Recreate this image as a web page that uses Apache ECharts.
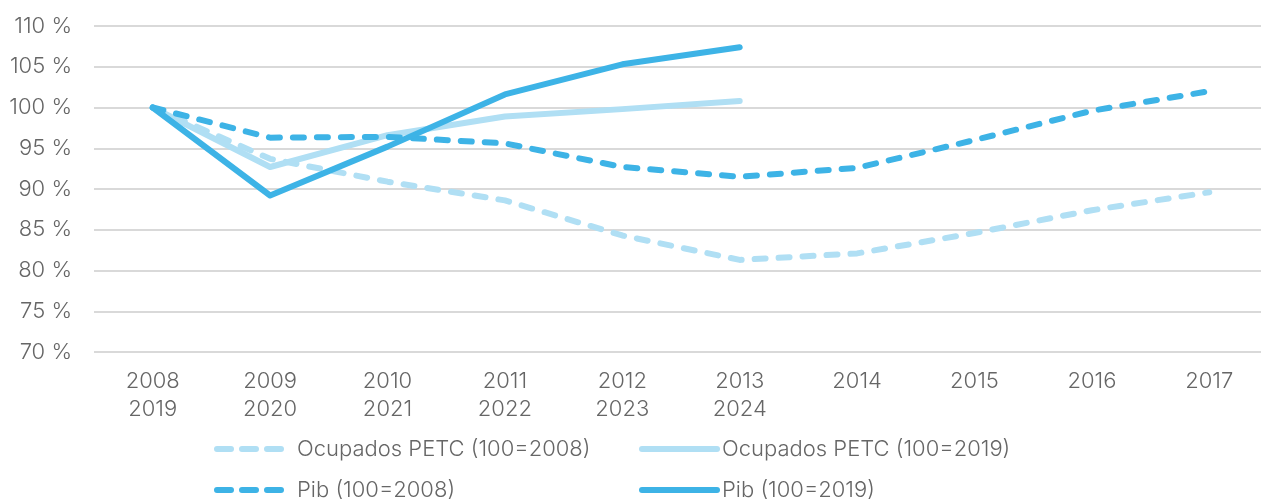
<!DOCTYPE html>
<html>
<head>
<meta charset="utf-8">
<title>Ocupados PETC y PIB</title>
<script src="https://cdn.jsdelivr.net/npm/echarts@6/dist/echarts.min.js"></script>
<style>
  html, body { margin: 0; padding: 0; background: #ffffff; overflow: hidden; }
  /* the plot runs a few pixels past the right edge of the page */
  #chart { width: 1268px; height: 499px; }
</style>
</head>
<body>
<div id="chart"></div>
<script>
// Category labels: first crisis period (2008-2017) paired with 2019-2024
const categories = [
  '2008\n2019', '2009\n2020', '2010\n2021', '2011\n2022', '2012\n2023',
  '2013\n2024', '2014', '2015', '2016', '2017'
];

// Index values (base 100)
const ocupados2008 = [100, 93.7, 90.9, 88.6, 84.3, 81.3, 82.1, 84.6, 87.4, 89.6];
const ocupados2019 = [100, 92.7, 96.6, 98.9, 99.8, 100.8];
const pib2008 = [100, 96.3, 96.4, 95.6, 92.7, 91.5, 92.6, 96.0, 99.6, 102.0];
const pib2019 = [100, 89.2, 95.2, 101.6, 105.3, 107.4];

const seriesNames = [
  'Ocupados PETC (100=2008)',
  'Ocupados PETC (100=2019)',
  'Pib (100=2008)',
  'Pib (100=2019)'
];

const LIGHT = '#b0dff4';
const DARK = '#3db3e6';
const DASH = [11, 13];
const FONT = 'Inter';
const WEIGHT = 300;
const FONT_SIZE = 22;
const TEXT = '#666666';
const LINE_W = 6;

function lineSeries(name, data, color, dashed) {
  return {
    name: name,
    type: 'line',
    data: data,
    symbol: 'none',
    smooth: false,
    lineStyle: {
      color: color,
      width: LINE_W,
      type: dashed ? DASH : 'solid',
      cap: 'round',
      join: 'round'
    },
    itemStyle: { color: color },
    emphasis: { disabled: true }
  };
}

// One legend block per entry so the two columns line up
function legendBlock(name, color, dashed, left, top) {
  return {
    left: left,
    top: top,
    itemWidth: 75,
    itemHeight: 14,
    textStyle: {
      fontFamily: FONT,
      fontWeight: WEIGHT,
      fontSize: FONT_SIZE,
      color: TEXT,
      lineHeight: 22,
      letterSpacing: 0.5
    },
    data: [{
      name: name,
      itemStyle: { opacity: 0 },
      lineStyle: {
        color: color,
        width: LINE_W,
        type: dashed ? [14, 11] : 'solid',
        cap: 'round'
      }
    }]
  };
}

const chart = echarts.init(document.getElementById('chart'), null, { renderer: 'canvas' });

chart.setOption({
  animation: false,
  backgroundColor: '#ffffff',
  grid: {
    left: 94,
    top: 26,
    width: 1174,
    height: 326,
    containLabel: false
  },
  legend: [
    legendBlock(seriesNames[0], LIGHT, true, 209, 433),
    legendBlock(seriesNames[1], LIGHT, false, 634, 433),
    legendBlock(seriesNames[2], DARK, true, 209, 474),
    legendBlock(seriesNames[3], DARK, false, 634, 474)
  ],
  xAxis: {
    type: 'category',
    data: categories,
    boundaryGap: true,
    axisLine: { show: false },
    axisTick: { show: false },
    axisLabel: {
      margin: 15,
      fontFamily: FONT,
      fontWeight: WEIGHT,
      fontSize: FONT_SIZE,
      lineHeight: 28,
      color: TEXT,
      interval: 0
    }
  },
  yAxis: {
    type: 'value',
    min: 70,
    max: 110,
    interval: 5,
    axisLine: { show: false },
    axisTick: { show: false },
    splitLine: { lineStyle: { color: '#d9d9d9', width: 2 } },
    axisLabel: {
      margin: 22,
      fontFamily: FONT,
      fontWeight: WEIGHT,
      fontSize: FONT_SIZE,
      color: TEXT,
      formatter: function (v) { return v + ' %'; }
    }
  },
  series: [
    lineSeries(seriesNames[0], ocupados2008, LIGHT, true),
    lineSeries(seriesNames[1], ocupados2019, LIGHT, false),
    lineSeries(seriesNames[2], pib2008, DARK, true),
    lineSeries(seriesNames[3], pib2019, DARK, false)
  ]
});
</script>
</body>
</html>
